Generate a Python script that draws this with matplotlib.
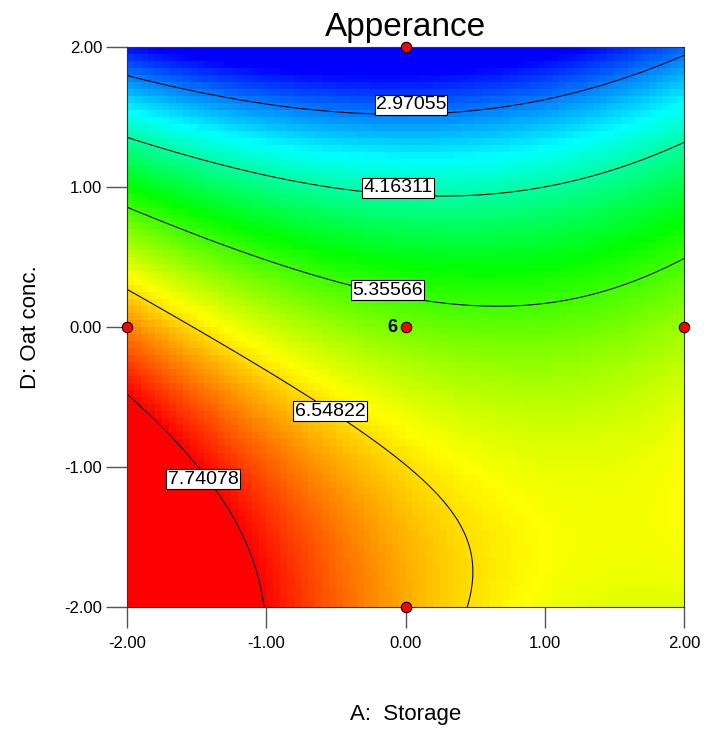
import numpy as np
import matplotlib
matplotlib.use("Agg")
import matplotlib.pyplot as plt
from matplotlib.colors import LinearSegmentedColormap

plt.rcParams['font.family'] = ['Liberation Sans', 'DejaVu Sans']

# fitted quadratic model in coded units:
# intercept, A, D, AD, A^2, D^2
coef = [5.6353, -0.2931, -1.2522, 0.2048, 0.1995, -0.3298]
levels = [2.97055, 4.16311, 5.35566, 6.54822, 7.74078]

# design points (A, D); the centre point is replicated 6 times
design_A = [0, -2, 0, 2, 0]
design_D = [2, 0, 0, 0, -2]
center_reps = 6

# where each contour value is written
label_A = [0.04, -0.054, -0.126, -0.542, -1.454]
label_D = [1.586, 0.993, 0.264, -0.6, -1.086]

ticks = [-2, -1, 0, 1, 2]

cmap = LinearSegmentedColormap.from_list("de", ["#0000ff", "#00ffff", "#00ff00", "#ffff00", "#ff0000"])

def model(a, d):
    return coef[0] + coef[1]*a + coef[2]*d + coef[3]*a*d + coef[4]*a**2 + coef[5]*d**2

fig = plt.figure(figsize=(7.06, 7.34), dpi=100)
ax = fig.add_axes([127/706, 1-607/734, 557/706, 560/734])

# coarse colour grid, fine grid for the contour lines
e = np.linspace(-2, 2, 81)
c = (e[:-1] + e[1:]) / 2
Ac, Dc = np.meshgrid(c, c)
ax.pcolormesh(e, e, model(Ac, Dc), cmap=cmap, vmin=2.3, vmax=7.74)
f = np.linspace(-2, 2, 400)
Af, Df = np.meshgrid(f, f)
ax.contour(Af, Df, model(Af, Df), levels=levels, colors="k", linewidths=0.75)
for lv, la, ld in zip(levels, label_A, label_D):
    ax.text(la, ld, "%.5f" % lv, fontsize=14, ha='center', va='center',
            bbox=dict(boxstyle='square,pad=0.06', fc='white', ec='black', lw=0.8))

ax.plot(design_A, design_D, 'o', ms=7.5, mfc='red', mec='black', mew=0.8, clip_on=False, zorder=5)
ax.text(-0.06, 0, str(center_reps), fontsize=13, fontweight='bold', ha='right', va='center')

ax.set_xticks(ticks)
ax.set_yticks(ticks)
ax.set_xticklabels(["%.2f" % t for t in ticks], fontsize=12)
ax.set_yticklabels(["%.2f" % t for t in ticks], fontsize=12)
ax.tick_params(direction='out', length=15, width=1, color='#555555')
ax.tick_params(axis='x', pad=6)
ax.tick_params(axis='y', pad=3)
ax.set_xlim(-2, 2)
ax.set_ylim(-2, 2)
for s in ax.spines.values():
    s.set_color('#333333')
ax.set_xlabel("A:  Storage", fontsize=16, labelpad=38)
ax.set_ylabel("D: Oat conc.", fontsize=16, labelpad=17)
ax.set_title("Apperance", fontsize=24, pad=8)
fig.savefig("out.png")
